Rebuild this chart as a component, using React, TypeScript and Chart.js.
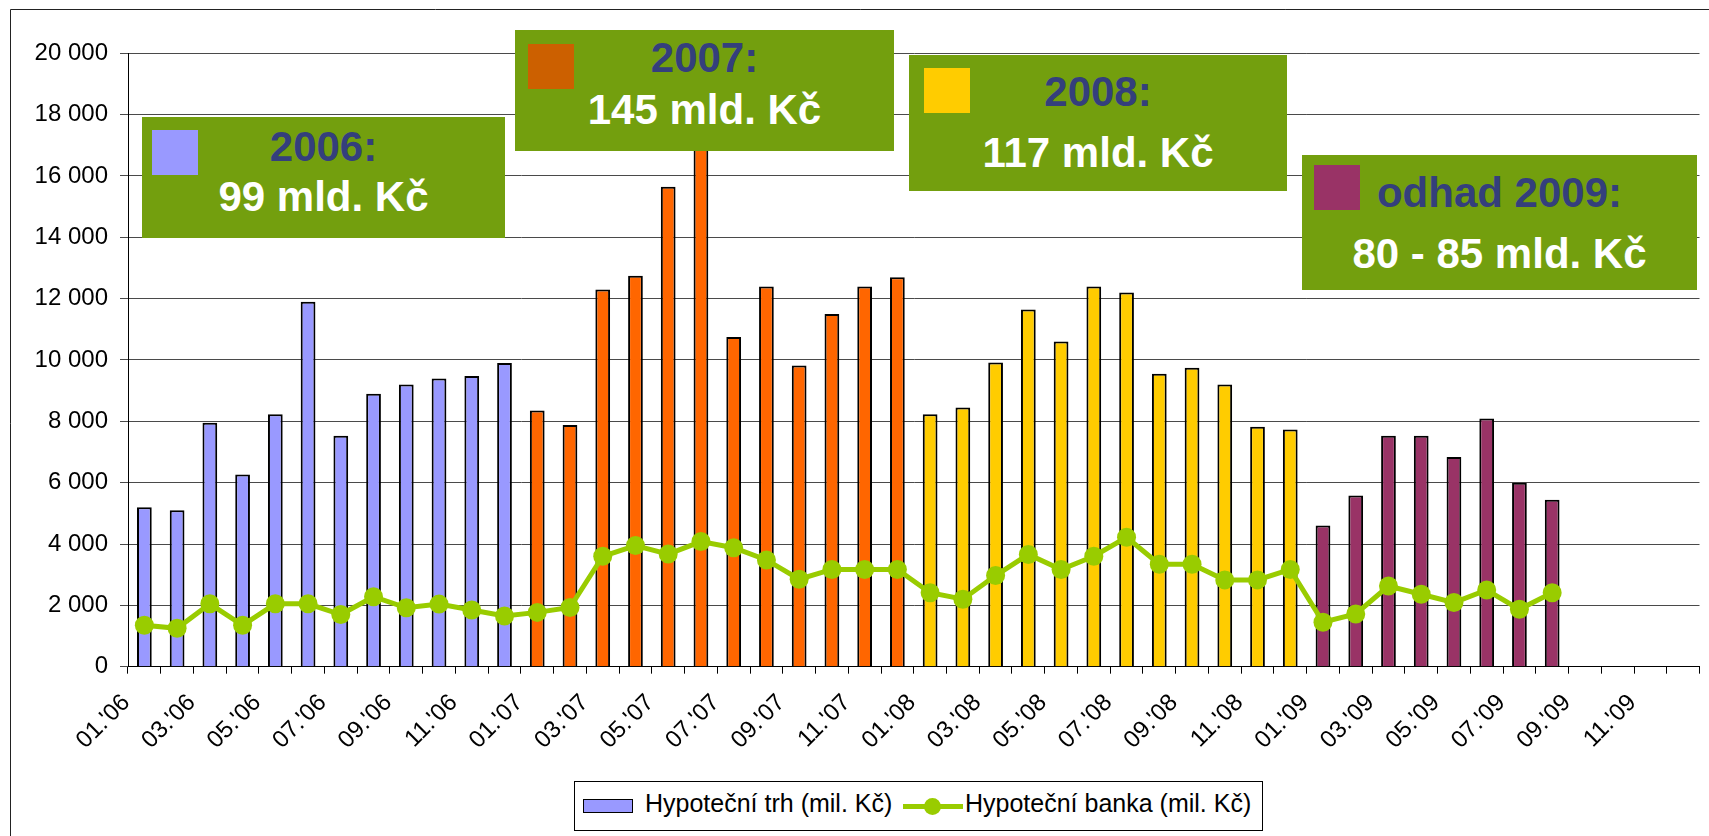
import React, { useEffect, useRef } from "react";
import { Chart, registerables } from "chart.js";

Chart.register(...registerables);

const FONT = "'Liberation Sans', Arial, Helvetica, sans-serif";

// 48 monthly categories 01.'06 .. 12.'09
const years = ["06", "07", "08", "09"];
const monthNums = ["01", "02", "03", "04", "05", "06", "07", "08", "09", "10", "11", "12"];
const categories: string[] = years.flatMap((y) => monthNums.map((m) => `${m}.'${y}`));

// Hypoteční trh (mil. Kč) – monthly mortgage market volume
const marketValues: number[] = [
  5200, 5100, 7950, 6270, 8230, 11900, 7530, 8900, 9200, 9400, 9480, 9900,
  8350, 7880, 12300, 12750, 15650, 18500, 10750, 12400, 9820, 11500, 12400, 12700,
  8230, 8450, 9920, 11650, 10600, 12400, 12200, 9550, 9750, 9200, 7820, 7730,
  4600, 5580, 7530, 7530, 6840, 8090, 6000, 5440,
];

// Hypoteční banka (mil. Kč)
const bankValues: number[] = [
  1350, 1250, 2050, 1350, 2050, 2050, 1700, 2280, 1920, 2040, 1850, 1650,
  1770, 1930, 3600, 3950, 3670, 4080, 3880, 3480, 2850, 3170, 3170, 3170,
  2410, 2200, 2970, 3660, 3170, 3600, 4220, 3340, 3340, 2830, 2830, 3170,
  1450, 1720, 2630, 2360, 2090, 2500, 1870, 2410,
];

const yTicks = [0, 2000, 4000, 6000, 8000, 10000, 12000, 14000, 16000, 18000, 20000];

const yearBarColors: Record<string, string> = {
  "06": "#9999FF",
  "07": "#FF6600",
  "08": "#FFCC00",
  "09": "#993366",
};

type Box = {
  left: number; top: number; width: number; height: number;
  sqLeft: number; sqTop: number; sqColor: string;
  title: string; titleTop: number; amount: string; amountTop: number;
};

const summaryBoxes: Box[] = [
  { left: 142, top: 117, width: 363, height: 121, sqLeft: 10, sqTop: 13, sqColor: "#9999FF", title: "2006:", titleTop: 6, amount: "99 mld. Kč", amountTop: 56 },
  { left: 515, top: 30, width: 379, height: 121, sqLeft: 13, sqTop: 14, sqColor: "#CC6000", title: "2007:", titleTop: 4, amount: "145 mld. Kč", amountTop: 56 },
  { left: 909, top: 55, width: 378, height: 136, sqLeft: 15, sqTop: 13, sqColor: "#FFCC00", title: "2008:", titleTop: 13, amount: "117 mld. Kč", amountTop: 74 },
  { left: 1302, top: 155, width: 395, height: 135, sqLeft: 12, sqTop: 10, sqColor: "#993366", title: "odhad 2009:", titleTop: 14, amount: "80 - 85 mld. Kč", amountTop: 75 },
];

const fmt = (v: number) => String(v).replace(/\B(?=(\d{3})+(?!\d))/g, " ");

const framePlugin = {
  id: "frame",
  beforeDraw(chart: any) {
    const ctx = chart.ctx;
    ctx.save();
    ctx.fillStyle = "#FFFFFF";
    ctx.fillRect(0, 0, chart.width, chart.height);
    ctx.strokeStyle = "#222222";
    ctx.lineWidth = 1;
    ctx.beginPath();
    ctx.moveTo(10.5, chart.height + 2);
    ctx.lineTo(10.5, 9.5);
    ctx.lineTo(chart.width + 2, 9.5);
    ctx.stroke();
    ctx.restore();
  },
};

export default function App() {
  const canvasRef = useRef<HTMLCanvasElement | null>(null);

  useEffect(() => {
    if (!canvasRef.current) return;
    const barColors = categories.map((c) => yearBarColors[c.slice(-2)]);
    const chart = new Chart(canvasRef.current, {
      type: "bar",
      data: {
        labels: categories,
        datasets: [
          {
            type: "line",
            label: "Hypoteční banka (mil. Kč)",
            data: bankValues,
            borderColor: "#99CC00",
            backgroundColor: "#99CC00",
            borderWidth: 5,
            pointRadius: 9.5,
            pointBackgroundColor: "#99CC00",
            pointBorderWidth: 0,
            tension: 0,
            order: 0,
          } as any,
          {
            type: "bar",
            label: "Hypoteční trh (mil. Kč)",
            data: marketValues,
            backgroundColor: barColors,
            borderColor: "#000000",
            borderWidth: 2,
            categoryPercentage: 1,
            barPercentage: 0.45,
            order: 1,
          } as any,
        ],
      },
      options: {
        responsive: false,
        animation: false,
        devicePixelRatio: 1,
        layout: { padding: { top: 53.33, left: 0, right: 0, bottom: 0 } },
        plugins: {
          legend: { display: false },
          tooltip: { enabled: false },
        },
        scales: {
          x: {
            type: "category",
            offset: true,
            grid: {
              display: true,
              drawOnChartArea: false,
              drawTicks: true,
              tickLength: 7,
              color: "#000000",
              offset: true,
            },
            border: { color: "#000000", width: 1 },
            ticks: {
              autoSkip: false,
              minRotation: 45,
              maxRotation: 45,
              padding: 15,
              labelOffset: -18,
              color: "#000000",
              font: { family: FONT, size: 24 },
              callback: (_v: any, i: number) => (i % 2 === 0 ? categories[i] : ""),
            },
            afterFit: (scale: any) => {
              scale.height = 836 - 666.67;
              scale.paddingLeft = 0;
              scale.paddingRight = 0;
            },
          },
          y: {
            min: 0,
            max: 20000,
            afterBuildTicks: (scale: any) => {
              scale.ticks = yTicks.map((v) => ({ value: v }));
            },
            grid: { color: "#4a4a4a", lineWidth: 1, tickLength: 8 },
            border: { color: "#000000", width: 1 },
            ticks: {
              padding: 12,
              color: "#000000",
              font: { family: FONT, size: 24 },
              callback: (v: any) => fmt(Number(v)),
            },
            afterFit: (scale: any) => {
              scale.width = 128;
            },
          },
        },
      },
      plugins: [framePlugin],
    });
    return () => chart.destroy();
  }, []);

  return (
    <div style={{ position: "fixed", left: 0, top: 0, width: 1709, height: 836, overflow: "hidden", background: "#fff", fontFamily: FONT }}>
      <canvas ref={canvasRef} width={1709} height={836} style={{ display: "block", width: 1709, height: 836 }} />
      {summaryBoxes.map((b) => (
        <div key={b.title} style={{ position: "absolute", left: b.left, top: b.top, width: b.width, height: b.height, background: "#739F0E" }}>
          <div style={{ position: "absolute", left: b.sqLeft, top: b.sqTop, width: 46, height: 45, background: b.sqColor }} />
          <div style={{ position: "absolute", left: 0, top: b.titleTop, width: "100%", textAlign: "center", font: `bold 42px/47px ${FONT}`, color: "#343F7C", whiteSpace: "nowrap" }}>{b.title}</div>
          <div style={{ position: "absolute", left: 0, top: b.amountTop, width: "100%", textAlign: "center", font: `bold 42px/47px ${FONT}`, color: "#FFFFFF", whiteSpace: "nowrap" }}>{b.amount}</div>
        </div>
      ))}
      <div style={{ position: "absolute", left: 574, top: 781, width: 687, height: 48, border: "1px solid #000", background: "#fff" }}>
        <div style={{ position: "absolute", left: 8, top: 17, width: 48, height: 12, background: "#9999FF", border: "1.5px solid #000" }} />
        <div style={{ position: "absolute", left: 70, top: 7, font: `25px/29px ${FONT}`, color: "#000", whiteSpace: "nowrap" }}>Hypoteční trh (mil. Kč)</div>
        <div style={{ position: "absolute", left: 328, top: 22, width: 60, height: 5, background: "#99CC00" }} />
        <div style={{ position: "absolute", left: 349, top: 16, width: 17, height: 17, borderRadius: "50%", background: "#99CC00" }} />
        <div style={{ position: "absolute", left: 390, top: 7, font: `25px/29px ${FONT}`, color: "#000", whiteSpace: "nowrap" }}>Hypoteční banka (mil. Kč)</div>
      </div>
    </div>
  );
}
